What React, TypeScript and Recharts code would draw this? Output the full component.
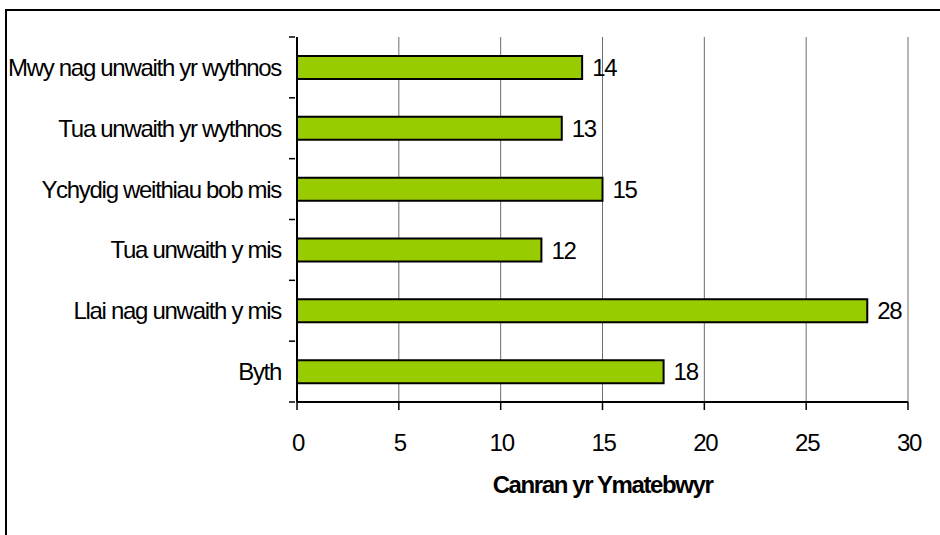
import React from "react";
import {
  BarChart,
  Bar,
  XAxis,
  YAxis,
  CartesianGrid,
  LabelList,
  Label,
} from "recharts";

const categories = [
  "Mwy nag unwaith yr wythnos",
  "Tua unwaith yr wythnos",
  "Ychydig weithiau bob mis",
  "Tua unwaith y mis",
  "Llai nag unwaith y mis",
  "Byth",
];
const values = [14, 13, 15, 12, 28, 18];
const xTicks = [0, 5, 10, 15, 20, 25, 30];
const axisTitle = "Canran yr Ymatebwyr";

const data = categories.map((name, i) => ({ name, value: values[i] }));

const FONT = "'Liberation Sans', Arial, sans-serif";

const YTick = (props: any) => {
  const { x, y, payload, index } = props;
  const half = payload && payload.offset ? payload.offset : 30.4;
  const axisX = x + 6;
  return (
    <g>
      <line x1={axisX - 6} x2={axisX} y1={y - half} y2={y - half} stroke="#000" strokeWidth={1.5} />
      {index === categories.length - 1 && (
        <line x1={axisX - 6} x2={axisX} y1={y + half} y2={y + half} stroke="#000" strokeWidth={1.5} />
      )}
      <text
        x={axisX - 14}
        y={y}
        dy={8.5}
        textAnchor="end"
        fontFamily={FONT}
        fontSize={24}
        letterSpacing={-1.3}
        fill="#000"
      >
        {payload.value}
      </text>
    </g>
  );
};

const XTick = (props: any) => {
  const { x, y, payload } = props;
  return (
    <text
      x={x + 1}
      y={y}
      dy={39}
      textAnchor="middle"
      fontFamily={FONT}
      fontSize={24}
      letterSpacing={-1.3}
      fill="#000"
    >
      {payload.value}
    </text>
  );
};

const TitleLabel = (props: any) => {
  const vb = props.viewBox || {};
  return (
    <text
      x={vb.x + vb.width / 2}
      y={vb.y + 91}
      textAnchor="middle"
      fontFamily={FONT}
      fontSize={24}
      fontWeight="bold"
      letterSpacing={-1.4}
      fill="#000"
    >
      {axisTitle}
    </text>
  );
};

export default function App() {
  return (
    <div
      style={{
        position: "absolute",
        left: 0,
        top: 0,
        width: 940,
        height: 535,
        overflow: "hidden",
        background: "#fff",
      }}
    >
      <div
        style={{
          position: "absolute",
          left: 5,
          top: 9,
          width: 960,
          height: 560,
          borderLeft: "2px solid #000",
          borderTop: "2px solid #000",
        }}
      />
      <div style={{ position: "absolute", left: 0, top: 0 }}>
        <BarChart
          width={940}
          height={535}
          data={data}
          layout="vertical"
          margin={{ top: 37, right: 32, bottom: 0, left: 0 }}
          barCategoryGap={0}
        >
          <CartesianGrid horizontal={false} vertical={true} stroke="#6e6e6e" strokeWidth={1} />
          <XAxis
            type="number"
            domain={[0, 30]}
            ticks={xTicks}
            height={133}
            axisLine={{ stroke: "#000", strokeWidth: 2 }}
            tickLine={{ stroke: "#000", strokeWidth: 1.5 }}
            tickSize={8}
            tick={<XTick />}
            interval={0}
          >
            <Label content={<TitleLabel />} />
          </XAxis>
          <XAxis
            xAxisId="top"
            orientation="top"
            type="number"
            domain={[0, 30]}
            height={0}
            tick={false}
            tickLine={false}
            axisLine={{ stroke: "#b4b4b4", strokeWidth: 2.5 }}
          />
          <YAxis
            type="category"
            dataKey="name"
            width={297}
            axisLine={{ stroke: "#000", strokeWidth: 2 }}
            tickLine={false}
            tick={<YTick />}
            interval={0}
          />
          <YAxis
            yAxisId="right"
            orientation="right"
            type="category"
            dataKey="name"
            width={0}
            tick={false}
            tickLine={false}
            axisLine={{ stroke: "#808080", strokeWidth: 2 }}
          />
          <Bar
            dataKey="value"
            fill="#99CC00"
            stroke="#000"
            strokeWidth={2}
            barSize={23}
            isAnimationActive={false}
          >
            <LabelList
              dataKey="value"
              position="right"
              offset={10}
              fontFamily={FONT}
              fontSize={24}
              letterSpacing={-1.3}
              fill="#000"
            />
          </Bar>
        </BarChart>
      </div>
    </div>
  );
}
